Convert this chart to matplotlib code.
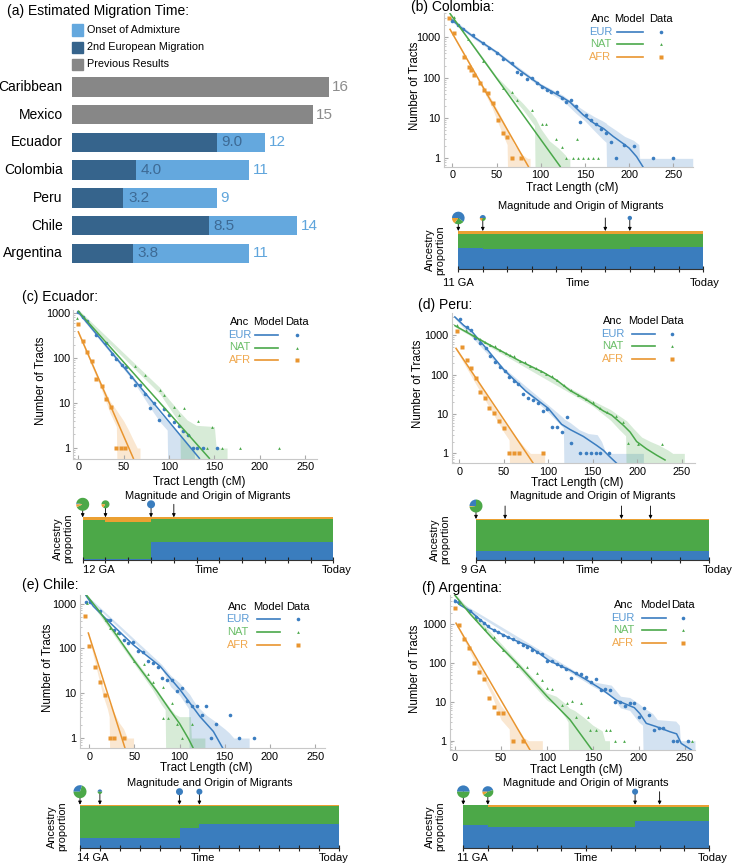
import matplotlib
matplotlib.use("Agg")
import numpy as np
import matplotlib.pyplot as plt
from matplotlib.patches import Rectangle, Wedge
from matplotlib.lines import Line2D
from matplotlib.transforms import IdentityTransform
from matplotlib.ticker import LogLocator, NullFormatter

plt.rcParams['font.family'] = ['Liberation Sans', 'DejaVu Sans']

# ------------------------------------------------------------------ data
# (a) estimated migration time (generations ago)
a_regions = ["Caribbean", "Mexico", "Ecuador", "Colombia", "Peru", "Chile", "Argentina"]
a_previous = [16, 15, None, None, None, None, None]
a_onset = [None, None, 12, 11, 9, 14, 11]
a_second = [None, None, 9.0, 4.0, 3.2, 8.5, 3.8]
a_legend = ["Onset of Admixture", "2nd European Migration", "Previous Results"]

ancestries = ["EUR", "NAT", "AFR"]
tract_ticks_x = [0, 50, 100, 150, 200, 250]
tract_ticks_y = [1, 10, 100, 1000]

# ---- (b) Colombia
col_eur_x = [0, 6, 12.4, 23, 35, 41.5, 50, 57.7, 68, 72.8, 78, 84, 90.5, 95.4, 101, 106.7, 112, 118, 123.7, 129, 134, 139.5, 145, 151, 156.5, 162, 168, 173.5, 179, 185, 194, 206, 227, 250]
col_eur_y = [2600, 2000, 1585, 1140, 710, 560, 416, 285, 228, 141, 127, 93, 100, 75, 58, 51, 43, 45, 32, 25, 28, 20, 8.1, 11.9, 8.9, 7.1, 5.2, 4.2, 2.6, 1, 2.1, 2.0, 1, 1]
col_eur_mx = [-2, 10, 25, 50, 75, 100, 125, 133, 148, 160, 171, 182, 193, 200, 208.5, 216]
col_eur_my = [2900, 1750, 1000, 430, 160, 65, 32, 25, 12, 7.5, 5.5, 3.5, 2.35, 1.8, 1.1, 0.6]
col_eur_bx = [-2, 25, 50, 100, 125, 140, 150, 160, 170, 174, 175, 185, 195, 205, 211, 212, 272]
col_eur_hi = [3200, 1100, 470, 72, 37, 21, 15, 11, 8.5, 7.5, 7, 5, 3.5, 2.8, 2.2, 1, 1]
col_eur_lo = [2600, 900, 390, 57, 27, 13, 8.5, 5, 3, 2.5, 0.1, 0.1, 0.1, 0.1, 0.1, 0.1, 0.1]
col_nat_x = [2, 18, 35, 57, 68, 73.5, 90, 101, 105.6, 117, 124, 140.6, 129, 136, 142.5, 148, 154, 159, 165]
col_nat_y = [3200, 890, 260, 56, 45, 28, 16, 7.1, 7.1, 3, 1.9, 3, 1, 1, 1, 1, 1, 1, 1]
col_nat_mx = [-2.6, 50, 122]
col_nat_my = [3900, 98, 0.63]
col_nat_bx = [-2.6, 50, 80, 90, 93, 94, 100, 110, 120, 128, 130, 133]
col_nat_hi = [4200, 108, 23, 13, 10.5, 10, 5.5, 2.7, 1.8, 1.2, 1, 1]
col_nat_lo = [3600, 90, 16, 8, 6.5, 0.1, 0.1, 0.1, 0.1, 0.1, 0.1, 0.1]
col_afr_x = [-3.8, 2, 13.6, 19, 20.7, 25, 31, 36, 40.7, 46, 52, 57, 61.5, 68, 78]
col_afr_y = [2950, 1260, 330, 187, 155, 117, 72, 51, 41, 23, 8.9, 4.2, 3.4, 1, 1]
col_afr_mx = [-2.6, 86]
col_afr_my = [1585, 0.63]
col_afr_bx = [-2.6, 30, 45, 55, 62, 63, 66, 70, 75, 80, 85, 88]
col_afr_hi = [1700, 95, 28, 11, 5.5, 5, 3.5, 2.2, 1.6, 1.2, 1, 1]
col_afr_lo = [1480, 80, 18, 5, 2.2, 0.1, 0.1, 0.1, 0.1, 0.1, 0.1, 0.1]

# ---- (c) Ecuador
ecu_eur_x = [0, 4.8, 10, 20, 30.5, 36.8, 42, 47.8, 52.6, 57.7, 62.5, 68, 73.5, 79, 83.8, 89, 94.5, 100, 105.5, 111, 115, 120.6, 126, 131, 137, 152.6]
ecu_eur_y = [1030, 830, 660, 325, 215, 124, 96, 71, 62, 37, 25, 25, 16, 7.6, 10, 4.2, 7.3, 5.4, 3.8, 3.1, 2.4, 1.9, 1, 1, 1, 1]
ecu_eur_mx = [0, 60, 133.5]
ecu_eur_my = [1050, 36, 0.59]
ecu_eur_bx = [0, 60, 80, 90, 98, 99, 105, 110, 115, 120, 125, 128]
ecu_eur_hi = [1150, 40, 11, 6, 4, 3.8, 2.8, 2.2, 1.7, 1.3, 1, 1]
ecu_eur_lo = [950, 32, 7.5, 3.8, 2.5, 0.1, 0.1, 0.1, 0.1, 0.1, 0.1, 0.1]
ecu_nat_x = [-1, 62.9, 73.5, 90, 95, 105, 111, 116, 122, 132, 147, 141.5, 158, 178, 221.7]
ecu_nat_y = [760, 67, 41, 19, 15, 8.3, 5.3, 7.6, 1.9, 4, 3, 1, 1, 1, 1]
ecu_nat_mx = [0, 144.5]
ecu_nat_my = [1100, 0.59]
ecu_nat_bx = [0, 90, 100, 110, 112, 113, 120, 130, 150, 152, 164]
ecu_nat_hi = [1200, 22, 12, 7, 6.2, 6, 4.2, 3.2, 3, 1, 1]
ecu_nat_lo = [1000, 16, 8, 4, 3.3, 0.1, 0.1, 0.1, 0.1, 0.1, 0.1]
ecu_afr_x = [0, 4.8, 10, 14.7, 20, 25.7, 31, 36, 41.5, 46.7, 52]
ecu_afr_y = [560, 240, 138, 84, 34, 24, 12.6, 8, 1, 1, 1]
ecu_afr_mx = [0, 60.7]
ecu_afr_my = [383, 0.59]
ecu_afr_bx = [0, 25, 35, 42, 43, 50, 55, 60, 64, 65, 68]
ecu_afr_hi = [420, 28, 11, 7, 6.5, 4, 2.6, 1.6, 1.1, 1, 1]
ecu_afr_lo = [350, 21, 6, 3, 0.1, 0.1, 0.1, 0.1, 0.1, 0.1, 0.1]

# ---- (d) Peru
per_eur_x = [0.7, 8.2, 13, 17.6, 23, 30, 35, 40, 45.7, 51, 56, 61.5, 66, 72, 77.6, 83, 88, 93.7, 99, 104.6, 110, 115, 120.7, 125.6, 136, 142, 147.7, 153.3, 158, 168.7]
per_eur_y = [2570, 1650, 1380, 870, 660, 470, 300, 205, 160, 123, 89, 69, 57, 33, 25, 22.6, 18.6, 11.8, 13.8, 4.8, 4.8, 3.6, 8.3, 1.8, 1, 1, 1, 1, 1, 1]
per_eur_mx = [-5, 5, 13.6, 30, 50, 75, 100, 115, 125, 139.5, 154.4, 162, 169, 177]
per_eur_my = [2950, 1800, 1300, 480, 135, 38, 14, 5.5, 4, 2.7, 1.6, 1.2, 0.83, 0.56]
per_eur_bx = [-5, 50, 100, 110, 117, 118, 125, 135, 145, 155, 160, 165, 207]
per_eur_hi = [3200, 150, 17, 11, 8, 7.5, 6, 4, 3.2, 3, 2, 1, 1]
per_eur_lo = [2700, 120, 11, 6.5, 4.5, 0.1, 0.1, 0.1, 0.1, 0.1, 0.1, 0.1, 0.1]
per_nat_x = [-2.2, 8, 17, 23, 29, 35, 40, 46, 52, 57, 62, 68, 74, 80, 86, 92, 98, 104, 110, 118, 126, 134, 142, 150, 158, 166, 176, 184, 190, 201, 227.5]
per_nat_y = [1800, 1400, 1000, 800, 690, 560, 530, 430, 360, 320, 300, 230, 210, 170, 150, 125, 105, 95, 75, 55, 42, 30, 24, 20, 14, 11, 9, 6.3, 1.8, 1.7, 1.7]
per_nat_mx = [-4.9, 30.7, 68.2, 94.5, 109.4, 124.4, 143.2, 162, 171.3, 184.4, 192, 199.4, 210.6, 221.9, 231.3]
per_nat_my = [1770, 630, 224, 115, 73, 40, 23, 12, 9.4, 5.2, 3.5, 2, 1.3, 0.9, 0.68]
per_nat_bx = [-4.9, 150, 170, 180, 187, 188, 195, 205, 215, 225, 235, 240, 253]
per_nat_hi = [1900, 22, 13, 9, 7, 6.8, 4.5, 2.6, 2, 1.6, 1.2, 1, 1]
per_nat_lo = [1650, 16, 7, 4, 2.8, 0.1, 0.1, 0.1, 0.1, 0.1, 0.1, 0.1, 0.1]
per_afr_x = [-2.2, 2.6, 8.2, 13, 18.7, 23.2, 29.2, 33.7, 39, 45, 50.2, 56, 61.8, 67.5, 93.7]
per_afr_y = [1290, 515, 240, 150, 85, 37, 26, 14.5, 10.5, 6.6, 4.5, 1, 1, 1, 1]
per_afr_mx = [-3.7, 83.2]
per_afr_my = [470, 0.56]
per_afr_bx = [-3.7, 40, 50, 56, 57, 62, 68, 75, 80, 96]
per_afr_hi = [510, 14, 6.5, 4.2, 4, 3, 2, 1.3, 1, 1]
per_afr_lo = [430, 8.5, 3.5, 2.2, 0.1, 0.1, 0.1, 0.1, 0.1, 0.1]

# ---- (e) Chile
chl_eur_x = [-3.7, 0.7, 11.8, 19.2, 22.9, 27.7, 33.2, 38.4, 43.2, 48.7, 54.3, 60, 65.4, 70, 76.4, 80.9, 86.4, 91.9, 97.5, 103, 107.8, 113.4, 119, 124.4, 129.3, 134.4, 140.3, 155.8, 166.2, 182.8]
chl_eur_y = [1100, 1100, 670, 440, 425, 263, 215, 152, 133, 136, 86, 82, 51, 47, 38, 22, 20, 19.5, 11, 13, 6.6, 5.2, 5.2, 3.2, 5.2, 1, 2.1, 3.2, 1, 1]
chl_eur_mx = [-3.7, 4.4, 19.2, 48.7, 78.3, 100.4, 122.6, 137.4, 147.7]
chl_eur_my = [1510, 870, 440, 120, 40, 12, 3, 1.4, 0.6]
chl_eur_bx = [-3.7, 80, 90, 100, 110, 111, 115, 120, 130, 140, 150, 155, 160, 177]
chl_eur_hi = [1600, 44, 25, 17, 10, 9.5, 7, 5, 3.2, 2.3, 1.6, 1.3, 1, 1]
chl_eur_lo = [1420, 36, 14, 9, 4.5, 0.1, 0.1, 0.1, 0.1, 0.1, 0.1, 0.1, 0.1, 0.1]
chl_nat_x = [-2.2, 18.5, 22.9, 30.3, 49.5, 60.6, 65.4, 70.9, 81.2, 82, 86.8, 92, 97.5, 103, 113.4]
chl_nat_y = [1050, 435, 280, 217, 51, 44, 27, 18, 13.7, 2.8, 2.8, 6.2, 2.1, 1, 2.1]
chl_nat_mx = [-3.7, 10, 28, 50, 75, 90, 100, 110, 115]
chl_nat_my = [1590, 720, 225, 52, 11, 4, 2.1, 0.95, 0.6]
chl_nat_bx = [-3.7, 70, 80, 84, 85, 90, 95, 100, 112, 113, 128]
chl_nat_hi = [1700, 17, 8.5, 6.5, 6.2, 4.5, 3.4, 3, 3, 1, 1]
chl_nat_lo = [1480, 12, 5.5, 4.3, 0.1, 0.1, 0.1, 0.1, 0.1, 0.1, 0.1]
chl_afr_x = [-4.8, 0, 6.3, 11.8, 17.4, 22.9, 27.7, 38.4]
chl_afr_y = [540, 115, 38, 18, 8.9, 1, 1, 1]
chl_afr_mx = [-1.1, 39.5]
chl_afr_my = [220, 0.6]
chl_afr_bx = [-1.1, 15, 20, 22, 23, 28, 33, 38, 42, 49]
chl_afr_hi = [240, 14, 8, 6, 5.5, 3.5, 2.2, 1.6, 1, 1]
chl_afr_lo = [200, 9, 4.5, 3, 0.1, 0.1, 0.1, 0.1, 0.1, 0.1]

# ---- (f) Argentina
arg_eur_x = [0, 4.7, 16.3, 22.8, 27.2, 31.9, 36.2, 42.4, 47.1, 52.5, 58, 63.4, 68.8, 74.3, 78.6, 84, 89.5, 95, 99.6, 105, 110.5, 115.2, 120.7, 126, 131.2, 136.6, 142, 147.5, 153, 158.3, 163, 168.5, 174, 179.3, 184.8, 190.2, 195, 200.4, 205.4, 210.9, 216.3, 221.7, 226.4, 236.6, 241, 253.6]
arg_eur_y = [3950, 3800, 2230, 1580, 1300, 1100, 910, 710, 650, 530, 480, 410, 340, 290, 265, 218, 197, 170, 115, 110, 95, 85, 69, 41, 56, 52, 43, 33, 38, 20, 22, 20, 9.8, 9.8, 7.7, 9.3, 9.3, 4.1, 7.1, 4.5, 1.9, 2.1, 2.1, 1, 1, 1]
arg_eur_mx = [0, 5.4, 16.3, 38, 59.8, 81.5, 103, 125, 143, 161, 175.7, 195, 201, 208, 219, 233.7, 241, 246, 257]
arg_eur_my = [4200, 3150, 2230, 800, 440, 265, 113, 66, 37, 20, 11, 7.1, 5, 2.8, 2.3, 1.7, 1.5, 0.85, 0.58]
arg_eur_bx = [0, 150, 170, 180, 190, 200, 204, 205, 210, 215, 220, 240, 244, 245, 261]
arg_eur_hi = [4500, 33, 27, 14, 13, 9, 7.5, 7, 6, 5, 3.5, 3.2, 2.5, 1, 1]
arg_eur_lo = [3900, 25, 14, 7, 6, 3, 2.5, 0.1, 0.1, 0.1, 0.1, 0.1, 0.1, 0.1, 0.1]
arg_nat_x = [4.7, 22.8, 32.6, 42.4, 52.5, 67.8, 77.9, 88.8, 94.2, 99.6, 105, 116, 121.4, 126.8, 136.6, 131.5, 145, 146.7, 153, 164, 169, 174, 184, 258]
arg_nat_y = [3500, 1350, 740, 480, 220, 85, 78, 55, 37, 22.6, 21, 8.1, 9.1, 10.3, 9.3, 4, 4, 1.9, 1.9, 1.9, 1.9, 1, 1, 1]
arg_nat_mx = [-1.8, 16, 40, 70, 100, 125, 149]
arg_nat_my = [6300, 1900, 450, 85, 14, 3.5, 0.58]
arg_nat_bx = [-1.8, 100, 110, 120, 123, 124, 130, 140, 150, 160, 163, 168]
arg_nat_hi = [6800, 17, 14, 9, 7.5, 7, 6, 4, 2.5, 1.8, 1, 1]
arg_nat_lo = [5800, 11, 8, 4, 3, 0.1, 0.1, 0.1, 0.1, 0.1, 0.1, 0.1]
arg_afr_x = [0, 4.7, 10.1, 15.2, 20.7, 26, 31.5, 37, 42.4, 47.1, 52.5, 63.4, 74.3]
arg_afr_y = [2700, 950, 410, 240, 98, 60, 38, 12.3, 7.3, 5.1, 5.1, 1, 1]
arg_afr_mx = [1.1, 81.5]
arg_afr_my = [1070, 0.58]
arg_afr_bx = [1.1, 40, 50, 59, 60, 65, 70, 75, 80, 95]
arg_afr_hi = [1150, 22, 8, 4.5, 4, 2.5, 1.8, 1.2, 1, 1]
arg_afr_lo = [1000, 15, 3.5, 2, 0.1, 0.1, 0.1, 0.1, 0.1, 0.1]

# ---- ancestry proportions per generation (oldest -> today): EUR, NAT, AFR
col_anc_eur = [0.55, 0.53, 0.53, 0.53, 0.53, 0.53, 0.53, 0.58, 0.58, 0.58]
col_anc_nat = [0.38, 0.38, 0.38, 0.38, 0.38, 0.38, 0.38, 0.33, 0.33, 0.33]
col_anc_afr = [0.07, 0.09, 0.09, 0.09, 0.09, 0.09, 0.09, 0.09, 0.09, 0.09]
ecu_anc_eur = [0.02, 0.02, 0.02, 0.42, 0.42, 0.42, 0.42, 0.42, 0.42, 0.42, 0.42]
ecu_anc_nat = [0.92, 0.88, 0.88, 0.53, 0.53, 0.53, 0.53, 0.53, 0.53, 0.53, 0.53]
ecu_anc_afr = [0.06, 0.10, 0.10, 0.05, 0.05, 0.05, 0.05, 0.05, 0.05, 0.05, 0.05]
per_anc_eur = [0.22, 0.22, 0.22, 0.22, 0.22, 0.22, 0.22, 0.22]
per_anc_nat = [0.755, 0.755, 0.755, 0.755, 0.755, 0.755, 0.755, 0.755]
per_anc_afr = [0.025, 0.025, 0.025, 0.025, 0.025, 0.025, 0.025, 0.025]
chl_anc_eur = [0.225, 0.225, 0.225, 0.225, 0.225, 0.46, 0.56, 0.56, 0.56, 0.56, 0.56, 0.56, 0.56]
chl_anc_nat = [0.745, 0.745, 0.745, 0.745, 0.745, 0.51, 0.41, 0.41, 0.41, 0.41, 0.41, 0.41, 0.41]
chl_anc_afr = [0.03, 0.03, 0.03, 0.03, 0.03, 0.03, 0.03, 0.03, 0.03, 0.03, 0.03, 0.03, 0.03]
arg_anc_eur = [0.52, 0.495, 0.495, 0.495, 0.495, 0.495, 0.495, 0.615, 0.615, 0.615]
arg_anc_nat = [0.48, 0.46, 0.46, 0.46, 0.46, 0.46, 0.46, 0.34, 0.34, 0.34]
arg_anc_afr = [0.0, 0.045, 0.045, 0.045, 0.045, 0.045, 0.045, 0.045, 0.045, 0.045]

# migration pulses: generation index, pie radius (px), composition EUR/NAT/AFR
col_pulse_gen = [0, 1, 6, 7]
col_pulse_size = [6.3, 3.0, 0, 2.2]
col_pulse_mix = [(0.6, 0.25, 0.15), (0.5, 0.3, 0.2), (1, 0, 0), (1, 0, 0)]
ecu_pulse_gen = [0, 1, 3, 4]
ecu_pulse_size = [6.5, 4.0, 4.0, 0]
ecu_pulse_mix = [(0.03, 0.9, 0.07), (0.0, 0.85, 0.15), (1, 0, 0), (1, 0, 0)]
per_pulse_gen = [0, 1, 5, 6]
per_pulse_size = [6.5, 0, 0, 0]
per_pulse_mix = [(0.25, 0.73, 0.02), (1, 0, 0), (1, 0, 0), (1, 0, 0)]
chl_pulse_gen = [0, 1, 5, 6]
chl_pulse_size = [6.5, 2.3, 3.5, 3.0]
chl_pulse_mix = [(0.3, 0.7, 0.0), (0.5, 0.5, 0.0), (1, 0, 0), (1, 0, 0)]
arg_pulse_gen = [0, 1, 7, 8]
arg_pulse_size = [6.3, 5.5, 3.0, 0]
arg_pulse_mix = [(0.5, 0.5, 0.0), (0.45, 0.45, 0.1), (1, 0, 0), (1, 0, 0)]

time_labels = {"col": "11 GA", "ecu": "12 GA", "per": "9 GA", "chl": "14 GA", "arg": "11 GA"}
titles = {"col": "(b) Colombia:", "ecu": "(c) Ecuador:", "per": "(d) Peru:", "chl": "(e) Chile:", "arg": "(f) Argentina:"}

# ------------------------------------------------------------------ style
C_LINE = {"EUR": "#3b7dc0", "NAT": "#4aa84a", "AFR": "#e9952f"}
C_LEGTXT = {"EUR": "#5b9bd5", "NAT": "#6cbf6a", "AFR": "#f0a84e"}
C_STACK = {"EUR": "#3a7dbe", "NAT": "#4ca848", "AFR": "#eba032"}
MARK = {"EUR": ("o", 2.6), "NAT": ("^", 2.0), "AFR": ("s", 2.3)}
C_LIGHT, C_DARK, C_GRAY = "#64a8de", "#36648c", "#878787"

W, H = 733, 864
fig = plt.figure(figsize=(W / 100, H / 100), dpi=100)


def fx(x):
    return x / W


def fy(y):
    return 1 - y / H


def box(l, t, r, b):
    return [l / W, 1 - b / H, (r - l) / W, (b - t) / H]


def ftext(x, y, s, **kw):
    kw.setdefault("ha", "center")
    kw.setdefault("va", "center")
    return fig.text(fx(x), fy(y), s, **kw)


# ------------------------------------------------------------------ panel (a)
ftext(7, 11, "(a) Estimated Migration Time:", ha="left", fontsize=10)
for i, (lab, col) in enumerate(zip(a_legend, [C_LIGHT, C_DARK, C_GRAY])):
    yc = 30 + 17.2 * i
    fig.add_artist(Rectangle((fx(71.7), fy(yc + 5.5)), 11 / W, 11 / H, color=col,
                             transform=fig.transFigure))
    ftext(86.7, yc, lab, ha="left", fontsize=7.8)

axa = fig.add_axes(box(72, 73.15, 72 + 16.07 * 17, 267.2))
axa.set_xlim(0, 17)
axa.set_ylim(6.5, -0.5)
axa.axis("off")
for i, name in enumerate(a_regions):
    axa.text(-0.58, i, name, ha="right", va="center", fontsize=10)
    if a_previous[i] is not None:
        axa.barh(i, a_previous[i], height=0.7, color=C_GRAY)
        axa.text(a_previous[i] + 0.15, i, f"{a_previous[i]}", ha="left", va="center",
                 fontsize=11, color="#8c8c8c", clip_on=False)
    else:
        axa.barh(i, a_onset[i], height=0.7, color=C_LIGHT)
        axa.barh(i, a_second[i], height=0.7, color=C_DARK)
        axa.text(a_second[i] + 0.3, i, f"{a_second[i]:.1f}", ha="left", va="center",
                 fontsize=11, color="#3d6a95")
        axa.text(a_onset[i] + 0.25, i, f"{a_onset[i]}", ha="left", va="center",
                 fontsize=11, color="#5fa5dc")

# ------------------------------------------------------------------ tract panels
G = globals()

tract_layout = {
    # axes box (l,t,r,b px), xlim, ylim, title xy, ylabel x, xlabel y, legend (header y, anc x, model x, data x, line x0, x1)
    "col": ((444, 13, 693, 167), (-9.4, 272.3), (0.61, 4030), (411, 7), 415, 188, (19, 600.5, 629, 661, 616.7, 642.7)),
    "ecu": ((73.3, 310, 316.7, 459), (-5.5, 262.8), (0.57, 1170), (22, 297), 41, 482.5, (322.3, 240, 268.3, 296.7, 255, 278.3)),
    "per": ((451.7, 313.3, 695, 463.3), (-8.5, 265), (0.56, 3650), (418, 305), 418, 483, (321, 612.7, 643.3, 671.7, 631.7, 655)),
    "chl": ((80, 595, 325, 748.3), (-10.3, 261), (0.59, 1550), (22, 585), 48, 768.5, (606.7, 237.7, 268.3, 297.7, 256.7, 280)),
    "arg": ((450, 595, 695, 750), (-5.4, 261), (0.575, 5690), (421.7, 588), 415, 770, (605, 623.3, 655, 683.3, 641.7, 666)),
}

for key, (bx, xl, yl, txy, ylx, xly, leg) in tract_layout.items():
    ax = fig.add_axes(box(*bx))
    ax.set_yscale("log")
    ax.set_xlim(*xl)
    ax.set_ylim(*yl)
    for anc in ancestries:
        p = f"{key}_{anc.lower()}_"
        c = C_LINE[anc]
        ax.fill_between(G[p + "bx"], G[p + "lo"], G[p + "hi"], color=c, alpha=0.22, lw=0)
        ax.plot(G[p + "mx"], G[p + "my"], color=c, lw=1.1)
        m, ms = MARK[anc]
        ax.plot(G[p + "x"], G[p + "y"], ls="none", marker=m, ms=ms, color=c, mec="none")
    for s in ["top", "right"]:
        ax.spines[s].set_visible(False)
    for s in ["left", "bottom"]:
        ax.spines[s].set_color("#c8c8c8")
        ax.spines[s].set_linewidth(0.8)
    ax.set_xticks(tract_ticks_x)
    ax.set_xticklabels([str(t) for t in tract_ticks_x], fontsize=7.8)
    ax.set_yticks(tract_ticks_y)
    ax.set_yticklabels([str(t) for t in tract_ticks_y], fontsize=7.8)
    ax.yaxis.set_minor_locator(LogLocator(base=10, subs=np.arange(2, 10)))
    ax.yaxis.set_minor_formatter(NullFormatter())
    ax.tick_params(which="major", direction="in", length=3, color="#aaaaaa", pad=2.5)
    ax.tick_params(which="minor", direction="in", length=1.5, color="#bbbbbb")
    l, t, r, b = bx
    ftext(txy[0], txy[1], titles[key], ha="left", fontsize=10)
    ftext(ylx, (t + b) / 2 - 4, "Number of Tracts", rotation=90, fontsize=8.3)
    ftext((l + r) / 2 + 4, xly, "Tract Length (cM)", fontsize=8.5)
    hy, xa, xm, xd, lx0, lx1 = leg
    ftext(xa, hy, "Anc", fontsize=8)
    ftext(xm, hy, "Model", fontsize=8)
    ftext(xd, hy, "Data", fontsize=8)
    for j, anc in enumerate(ancestries):
        yy = hy + 12.6 * (j + 1)
        ftext(xa, yy, anc, fontsize=8, color=C_LEGTXT[anc])
        fig.add_artist(Line2D([fx(lx0), fx(lx1)], [fy(yy), fy(yy)], color=C_LINE[anc], lw=1.2,
                              transform=fig.transFigure))
        m, ms = MARK[anc]
        fig.add_artist(Line2D([fx(xd)], [fy(yy)], ls="none", marker=m, ms=ms, color=C_LINE[anc],
                              mec="none", transform=fig.transFigure))

# ------------------------------------------------------------------ ancestry panels
anc_layout = {
    # bar box, title y, ylabel x, tick-label y, (GA x, Time x, Today x)
    "col": ((458.3, 231, 703.3, 269), 206, 435, 283, (458, 578, 705)),
    "ecu": ((82.7, 517.3, 333.3, 560), 496, 63, 570, (99, 207, 337)),
    "per": ((476, 519, 708.7, 560), 496, 440, 570, (474, 588, 718)),
    "chl": ((80, 804.7, 338.7, 848), 783, 57, 858, (93, 203, 334)),
    "arg": ((463.3, 804.7, 708.7, 848), 783, 435, 858, (472, 586, 713)),
}

for key, (bx, ty, ylx, tly, lxs) in anc_layout.items():
    ax = fig.add_axes(box(*bx))
    fr = [G[f"{key}_anc_{a.lower()}"] for a in ancestries]
    n = len(fr[0])
    xs = np.arange(n + 1)
    base = np.zeros(n + 1)
    for a, f in zip(ancestries, fr):
        vals = np.array(list(f) + [f[-1]])
        ax.fill_between(xs, base, base + vals, step="post", color=C_STACK[a], lw=0)
        base = base + vals
    ax.set_xlim(0, n)
    ax.set_ylim(0, 1)
    for s in ["top", "right", "left"]:
        ax.spines[s].set_visible(False)
    ax.spines["bottom"].set_color("#333333")
    ax.spines["bottom"].set_linewidth(0.8)
    ax.set_yticks([])
    ax.set_xticks(xs)
    ax.set_xticklabels([])
    ax.tick_params(axis="x", direction="inout", length=5, width=0.8, color="#222222")
    l, t, r, b = bx
    ftext((l + r) / 2, ty, "Magnitude and Origin of Migrants", fontsize=8)
    ftext(ylx, (t + b) / 2, "Ancestry\nproportion", rotation=90, fontsize=7.8, linespacing=0.95)
    ftext(lxs[0], tly, time_labels[key], fontsize=8)
    ftext(lxs[1], tly, "Time", fontsize=8)
    ftext(lxs[2], tly, "Today", fontsize=8)
    # migration pulses
    for g, rad, mix in zip(G[f"{key}_pulse_gen"], G[f"{key}_pulse_size"], G[f"{key}_pulse_mix"]):
        ax.annotate("", xy=(g, 1.0), xycoords="data", xytext=(0, 13), textcoords="offset pixels",
                    arrowprops=dict(arrowstyle="-|>", color="black", lw=0.6, mutation_scale=5,
                                    shrinkA=0, shrinkB=0), annotation_clip=False)
        if rad > 0:
            xd, yd = ax.transData.transform((g, 1.0))
            cum = 0.0
            for a, frac in zip(ancestries, mix):
                if frac <= 0:
                    continue
                th2 = 180 - cum * 360
                th1 = 180 - (cum + frac) * 360
                fig.add_artist(Wedge((xd, yd + 13), rad, th1, th2, color=C_STACK[a], lw=0,
                                     transform=IdentityTransform(), zorder=5))
                cum += frac

fig.savefig("out.png", dpi=100)
